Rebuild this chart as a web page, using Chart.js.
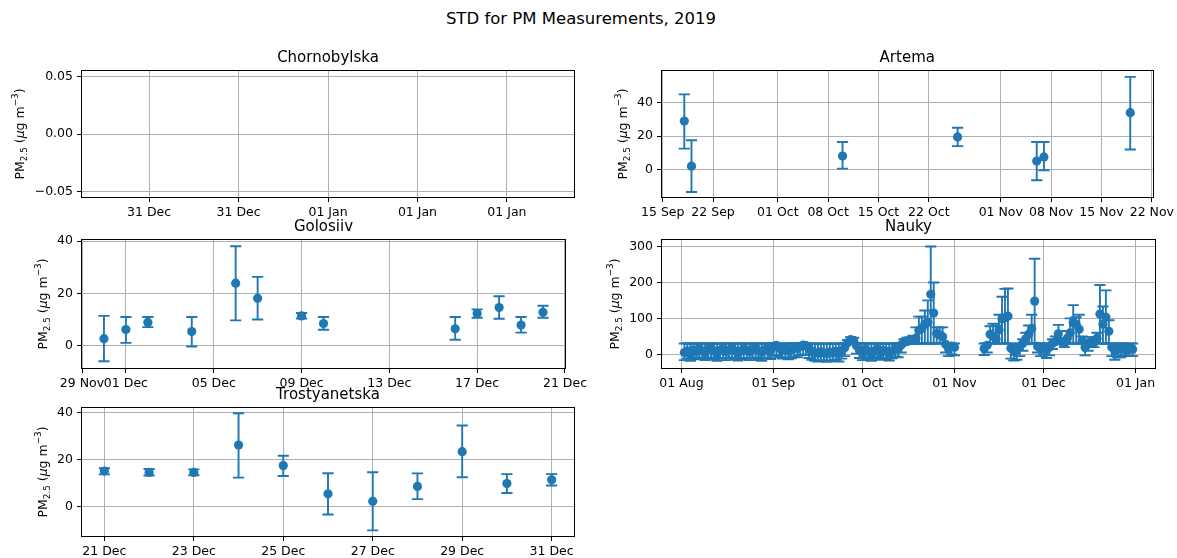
<!DOCTYPE html>
<html>
<head>
<meta charset="utf-8">
<script src="https://cdn.jsdelivr.net/npm/chart.js@4.4.1/dist/chart.umd.min.js"></script>
<style>
  body { margin: 0; background: #fff; width: 1177px; height: 558px; position: relative; overflow: hidden; font-family: "DejaVu Sans", sans-serif; }
  #suptitle { position: absolute; left: 0; top: 9px; width: 1162px; text-align: center; font-size: 16.5px; color: #000; }
  canvas { position: absolute; }
</style>
</head>
<body>
<div id="suptitle">STD for PM Measurements, 2019</div>
<canvas id="chornobylska" width="590" height="179" style="left:0;top:44px"></canvas>
<canvas id="artema" width="587" height="179" style="left:590px;top:44px"></canvas>
<canvas id="golosiiv" width="590" height="181" style="left:0;top:213px"></canvas>
<canvas id="nauky" width="587" height="181" style="left:590px;top:213px"></canvas>
<canvas id="trostyanetska" width="590" height="181" style="left:0;top:381px"></canvas>
<script>
// --- data (2019 dates as MM-DD) ---

// Chornobylska: no measurements, empty axes
const chornobylskaXTicks = [-0.04, -0.02, 0, 0.02, 0.04];
const chornobylskaXLabels = ['31 Dec', '31 Dec', '01 Jan', '01 Jan', '01 Jan'];
const chornobylskaYTicks = [-0.05, 0, 0.05];

const artemaDates = ['09-18', '09-19', '10-10', '10-26', '11-06', '11-07', '11-19'];
const artemaMean = [29, 2, 8, 19.5, 5, 7.5, 34];
const artemaLow = [12.5, -13.5, 0.5, 14, -6.5, -0.5, 12];
const artemaHigh = [45, 17.5, 16.5, 25, 16.5, 16.5, 55.5];
const artemaXTicks = ['09-15', '09-22', '10-01', '10-08', '10-15', '10-22', '11-01', '11-08', '11-15', '11-22'];
const artemaYTicks = [0, 20, 40];

const golosiivDates = ['11-30', '12-01', '12-02', '12-04', '12-06', '12-07', '12-09', '12-10', '12-16', '12-17', '12-18', '12-19', '12-20'];
const golosiivMean = [2.7, 6.2, 8.9, 5.4, 23.9, 18.1, 11.4, 8.5, 6.5, 12.3, 14.6, 7.9, 12.8];
const golosiivLow = [-5.9, 1.1, 7.1, -0.3, 9.7, 10, 10.4, 6.1, 2.3, 10.7, 10.3, 5, 10.7];
const golosiivHigh = [11.4, 11, 11, 11, 38, 26.3, 12.5, 11, 11, 13.9, 18.9, 11, 15.3];
const golosiivXTicks = ['11-29', '12-01', '12-05', '12-09', '12-13', '12-17', '12-21'];
const golosiivYTicks = [0, 20, 40];

const naukyDates = [
  '08-02', '08-03', '08-04', '08-05', '08-06', '08-07', '08-08', '08-09', '08-10', '08-11',
  '08-12', '08-13', '08-14', '08-15', '08-16', '08-17', '08-18', '08-19', '08-20', '08-21',
  '08-22', '08-23', '08-24', '08-25', '08-26', '08-27', '08-28', '08-29', '08-30', '08-31',
  '09-01', '09-02', '09-03', '09-04', '09-05', '09-06', '09-07', '09-08', '09-09', '09-10',
  '09-11', '09-12', '09-13', '09-14', '09-15', '09-16', '09-17', '09-18', '09-19', '09-20',
  '09-21', '09-22', '09-23', '09-24', '09-25', '09-26', '09-27', '09-28', '09-29', '09-30',
  '10-01', '10-02', '10-03', '10-04', '10-05', '10-06', '10-07', '10-08', '10-09', '10-10',
  '10-11', '10-12', '10-13', '10-14', '10-15', '10-16', '10-17', '10-18', '10-19', '10-20',
  '10-21', '10-22', '10-23', '10-24', '10-25', '10-26', '10-27', '10-28', '10-29', '10-30',
  '10-31', '11-01',
  '11-11', '11-12', '11-13', '11-14', '11-15', '11-16', '11-17', '11-18', '11-19', '11-20',
  '11-21', '11-22', '11-23', '11-24', '11-25', '11-26', '11-27', '11-28', '11-29', '11-30',
  '12-01', '12-02', '12-03', '12-04', '12-05', '12-06', '12-07', '12-08', '12-09', '12-10',
  '12-11', '12-12', '12-13', '12-14', '12-15', '12-16', '12-17', '12-18', '12-19', '12-20',
  '12-21', '12-22', '12-23', '12-24', '12-25', '12-26', '12-27', '12-28', '12-29', '12-30',
  '12-31'
];
const naukyMean = [
  5, 9, 2, 12, 8, 15, 10, 6, 13, 17, 9, 4, 11, 14, 7, 12, 16, 10, 5, 9, 14, 11, 7, 13, 16, 9, 6, 12, 15, 10,
  22, 25, 17, 12, 15, 9, 13, 19, 16, 22, 26, 24, 15, 9, 5, 3, 7, 4, 2, 6, 4, 8, 3, 10, 18, 32, 41, 38, 24, 12,
  5, 13, 8, 3, 9, 14, 6, 11, 8, 4, 10, 15, 14, 26, 33, 36, 38, 40, 45, 67, 72, 84, 89, 167, 115, 58, 54, 49, 28, 17, 23,
  20,
  16, 25, 56, 50, 42, 68, 98, 102, 106, 17, 8, 12, 22, 30, 43, 56, 72, 148, 22, 18,
  20, 14, 20, 30, 36, 57, 35, 30, 45, 60, 88, 83, 70, 38, 20, 28, 38, 32, 45, 112, 84, 103, 64, 20, 10, 18, 14, 20, 12, 18, 14
];
const naukyLow = [
  -16, -12, -18, -10, -14, -9, -13, -16, -11, -9, -14, -18, -12, -10, -16, -11, -9, -13, -17, -14, -10, -12, -16, -11, -9, -15, -18, -12, -10, -13,
  -4, -2, -8, -12, -9, -14, -11, -6, -8, -3, 0, -2, -10, -15, -18, -20, -16, -19, -21, -17, -19, -15, -20, -12, -5, 28, 30, 30, 2, -10,
  -16, -9, -13, -18, -12, -8, -15, -10, -13, -17, -11, -6, -8, 5, 30, 30, 30, 30, 30, 30, 30, 30, 30, 30, 30, 30, 30, 30, 5, -5, 0,
  -3,
  -2, 5, 30, 30, 30, 30, 30, 30, 30, -12, -17, -15, -5, 10, 28, 30, 30, 30, 5, -5,
  0, -10, -3, 15, 30, 30, 30, 20, 30, 30, 30, 30, 30, 30, -3, 10, 30, 20, 30, 30, 30, 30, 30, -5, -15, -8, -8, -3, -5, -5, -5
];
const naukyHigh = [
  30, 31, 29, 30, 30, 31, 30, 29, 30, 31, 30, 29, 30, 30, 31, 30, 30, 29, 30, 31, 30, 30, 29, 30, 31, 30, 29, 30, 30, 31,
  31, 30, 30, 29, 30, 30, 31, 30, 30, 31, 32, 31, 30, 29, 30, 30, 29, 30, 30, 29, 30, 30, 29, 30, 31, 40, 48, 46, 32, 30,
  30, 31, 30, 29, 30, 31, 30, 30, 29, 30, 30, 31, 30, 32, 42, 46, 48, 52, 75, 105, 105, 122, 150, 300, 200, 75, 75, 75, 30, 30, 30,
  30,
  30, 31, 78, 85, 80, 110, 160, 182, 183, 30, 29, 28, 30, 42, 60, 80, 110, 266, 30, 30,
  30, 28, 30, 42, 50, 82, 45, 40, 65, 100, 137, 103, 110, 50, 30, 40, 48, 42, 60, 193, 133, 178, 95, 30, 28, 30, 30, 30, 28, 30, 30
];
const naukyXTicks = ['08-01', '09-01', '10-01', '11-01', '12-01', '2020-01-01'];
const naukyYTicks = [0, 100, 200, 300];

const trostyanetskaDates = ['12-21', '12-22', '12-23', '12-24', '12-25', '12-26', '12-27', '12-28', '12-29', '12-30', '12-31'];
const trostyanetskaMean = [15.2, 14.6, 14.6, 26.2, 17.5, 5.6, 2.4, 8.7, 23.4, 9.9, 11.5];
const trostyanetskaLow = [13.8, 13.3, 13.4, 12.4, 13.1, -3.2, -9.9, 3.3, 12.6, 5.9, 9.1];
const trostyanetskaHigh = [16.4, 16.1, 15.9, 39.7, 21.7, 14.3, 14.7, 14.2, 34.5, 13.9, 13.9];
const trostyanetskaXTicks = ['12-21', '12-23', '12-25', '12-27', '12-29', '12-31'];
const trostyanetskaYTicks = [0, 20, 40];

// --- helpers ---
const BLUE = '#1f77b4';
const FONT = 'DejaVu Sans';
const MONTHS = ['Jan', 'Feb', 'Mar', 'Apr', 'May', 'Jun', 'Jul', 'Aug', 'Sep', 'Oct', 'Nov', 'Dec'];

function dayNum(s) {
  const p = s.split('-').map(Number);
  const [y, m, d] = p.length === 3 ? p : [2019, p[0], p[1]];
  return (Date.UTC(y, m - 1, d) - Date.UTC(2019, 0, 1)) / 864e5;
}

function dayLabel(n) {
  const dt = new Date(Date.UTC(2019, 0, 1) + n * 864e5);
  return String(dt.getUTCDate()).padStart(2, '0') + ' ' + MONTHS[dt.getUTCMonth()];
}

function fmtY(v, decimals) {
  return v.toFixed(decimals).replace('-', '\u2212');
}

// error bars drawn under the markers
const errorBars = {
  id: 'errorBars',
  beforeDatasetsDraw(chart) {
    const { ctx, chartArea, scales: { x, y } } = chart;
    ctx.save();
    ctx.beginPath();
    ctx.rect(chartArea.left, chartArea.top, chartArea.right - chartArea.left, chartArea.bottom - chartArea.top);
    ctx.clip();
    ctx.strokeStyle = BLUE;
    ctx.lineWidth = 1.9;
    const cap = 5.6;
    chart.data.datasets.forEach(ds => {
      ds.data.forEach((p, i) => {
        const px = x.getPixelForValue(p.x);
        const y1 = y.getPixelForValue(ds.low[i]);
        const y2 = y.getPixelForValue(ds.high[i]);
        ctx.beginPath();
        ctx.moveTo(px, y1); ctx.lineTo(px, y2);
        ctx.moveTo(px - cap, y1); ctx.lineTo(px + cap, y1);
        ctx.moveTo(px - cap, y2); ctx.lineTo(px + cap, y2);
        ctx.stroke();
      });
    });
    ctx.restore();
  }
};

// full box around the axes, like matplotlib spines
const spines = {
  id: 'spines',
  afterDatasetsDraw(chart) {
    const { ctx, chartArea: a } = chart;
    ctx.save();
    ctx.strokeStyle = '#000';
    ctx.lineWidth = 1;
    ctx.strokeRect(Math.round(a.left) - 0.5, Math.round(a.top) - 0.5, Math.round(a.right - a.left) + 1, Math.round(a.bottom - a.top) + 1);
    ctx.restore();
  }
};

// y label "PM2.5 (μg m−3)" with sub/superscripts
const yLabel = {
  id: 'yLabel',
  afterDraw(chart) {
    const { ctx, chartArea: a, scales: { y } } = chart;
    const size = 12.5, small = 8.8;
    ctx.save();
    ctx.font = size + 'px "' + FONT + '"';
    let maxW = 0;
    y.ticks.forEach(t => { maxW = Math.max(maxW, ctx.measureText(t.label).width); });
    const parts = [
      { t: 'PM', f: size + 'px "' + FONT + '"', dy: 0 },
      { t: '2.5', f: small + 'px "' + FONT + '"', dy: 3 },
      { t: ' (', f: size + 'px "' + FONT + '"', dy: 0 },
      { t: '\u03bc', f: 'italic ' + size + 'px "' + FONT + '"', dy: 0 },
      { t: 'g m', f: size + 'px "' + FONT + '"', dy: 0 },
      { t: '\u22123', f: small + 'px "' + FONT + '"', dy: -6 },
      { t: ')', f: size + 'px "' + FONT + '"', dy: 0 }
    ];
    let total = 0;
    parts.forEach(p => { ctx.font = p.f; p.w = ctx.measureText(p.t).width; total += p.w; });
    const cx = a.left - 5 - 4 - maxW - 10.5;
    const cy = (a.top + a.bottom) / 2;
    ctx.translate(cx, cy);
    ctx.rotate(-Math.PI / 2);
    ctx.fillStyle = '#000';
    ctx.textBaseline = 'alphabetic';
    let xpos = -total / 2;
    parts.forEach(p => {
      ctx.font = p.f;
      ctx.fillText(p.t, xpos, p.dy);
      xpos += p.w;
    });
    ctx.restore();
  }
};

function makePanel(id, cfg) {
  const datasets = [];
  if (cfg.dates) {
    datasets.push({
      data: cfg.dates.map((d, i) => ({ x: dayNum(d), y: cfg.mean[i] })),
      low: cfg.low,
      high: cfg.high,
      backgroundColor: BLUE,
      borderWidth: 0,
      pointRadius: 4.6
    });
  }
  const tickFont = { family: FONT, size: 12.5 };
  const grid = { color: '#b0b0b0', lineWidth: 1, tickColor: '#000', tickLength: 5, drawTicks: true };

  new Chart(document.getElementById(id), {
    type: 'scatter',
    data: { datasets },
    options: {
      responsive: false,
      animation: false,
      layout: { autoPadding: false, padding: { left: 0, right: cfg.padRight, top: 0, bottom: 0 } },
      plugins: {
        legend: { display: false },
        tooltip: { enabled: false },
        title: {
          display: true,
          text: cfg.title,
          fullSize: false,
          color: '#000',
          font: { family: FONT, size: 15, weight: 'normal', lineHeight: 1.2 },
          padding: { top: 5, bottom: 4 }
        }
      },
      scales: {
        x: {
          type: 'linear',
          min: cfg.xMin,
          max: cfg.xMax,
          afterBuildTicks: s => { s.ticks = cfg.xTickValues.map(v => ({ value: v })); },
          afterFit: s => { s.height = 26; },
          ticks: {
            autoSkip: false,
            maxRotation: 0,
            minRotation: 0,
            padding: 3,
            color: '#000',
            font: tickFont,
            callback: (v, i) => cfg.xTickLabels[i]
          },
          grid,
          border: { display: false }
        },
        y: {
          type: 'linear',
          min: cfg.yMin,
          max: cfg.yMax,
          afterBuildTicks: s => { s.ticks = cfg.yTicks.map(v => ({ value: v })); },
          afterFit: s => { s.width = cfg.yWidth; },
          ticks: {
            padding: 4,
            color: '#000',
            font: tickFont,
            callback: v => fmtY(v, cfg.yDecimals || 0)
          },
          grid,
          border: { display: false }
        }
      }
    },
    plugins: [errorBars, spines, yLabel]
  });
}

const dateTicks = arr => ({ xTickValues: arr.map(dayNum), xTickLabels: arr.map(s => dayLabel(dayNum(s))) });

makePanel('chornobylska', {
  title: 'Chornobylska', yWidth: 82, padRight: 16,
  xMin: -0.055, xMax: 0.055, xTickValues: chornobylskaXTicks, xTickLabels: chornobylskaXLabels,
  yMin: -0.055, yMax: 0.055, yTicks: chornobylskaYTicks, yDecimals: 2
});

makePanel('artema', Object.assign({
  title: 'Artema', yWidth: 72, padRight: 22,
  dates: artemaDates, mean: artemaMean, low: artemaLow, high: artemaHigh,
  xMin: dayNum('09-18') - 3.1, xMax: dayNum('11-19') + 3.1,
  yMin: -16.5, yMax: 59, yTicks: artemaYTicks
}, dateTicks(artemaXTicks)));

makePanel('golosiiv', Object.assign({
  title: 'Golosiiv', yWidth: 82, padRight: 16,
  dates: golosiivDates, mean: golosiivMean, low: golosiivLow, high: golosiivHigh,
  xMin: dayNum('11-30') - 1, xMax: dayNum('12-20') + 1,
  yMin: -8.5, yMax: 40.4, yTicks: golosiivYTicks
}, dateTicks(golosiivXTicks)));

makePanel('nauky', Object.assign({
  title: 'Nauky', yWidth: 72, padRight: 22,
  dates: naukyDates, mean: naukyMean, low: naukyLow, high: naukyHigh,
  xMin: dayNum('08-02') - 7.55, xMax: dayNum('12-31') + 7.55,
  yMin: -38, yMax: 318, yTicks: naukyYTicks
}, dateTicks(naukyXTicks)));

makePanel('trostyanetska', Object.assign({
  title: 'Trostyanetska', yWidth: 82, padRight: 16,
  dates: trostyanetskaDates, mean: trostyanetskaMean, low: trostyanetskaLow, high: trostyanetskaHigh,
  xMin: dayNum('12-21') - 0.5, xMax: dayNum('12-31') + 0.5,
  yMin: -12.3, yMax: 41.9, yTicks: trostyanetskaYTicks
}, dateTicks(trostyanetskaXTicks)));
</script>
</body>
</html>
